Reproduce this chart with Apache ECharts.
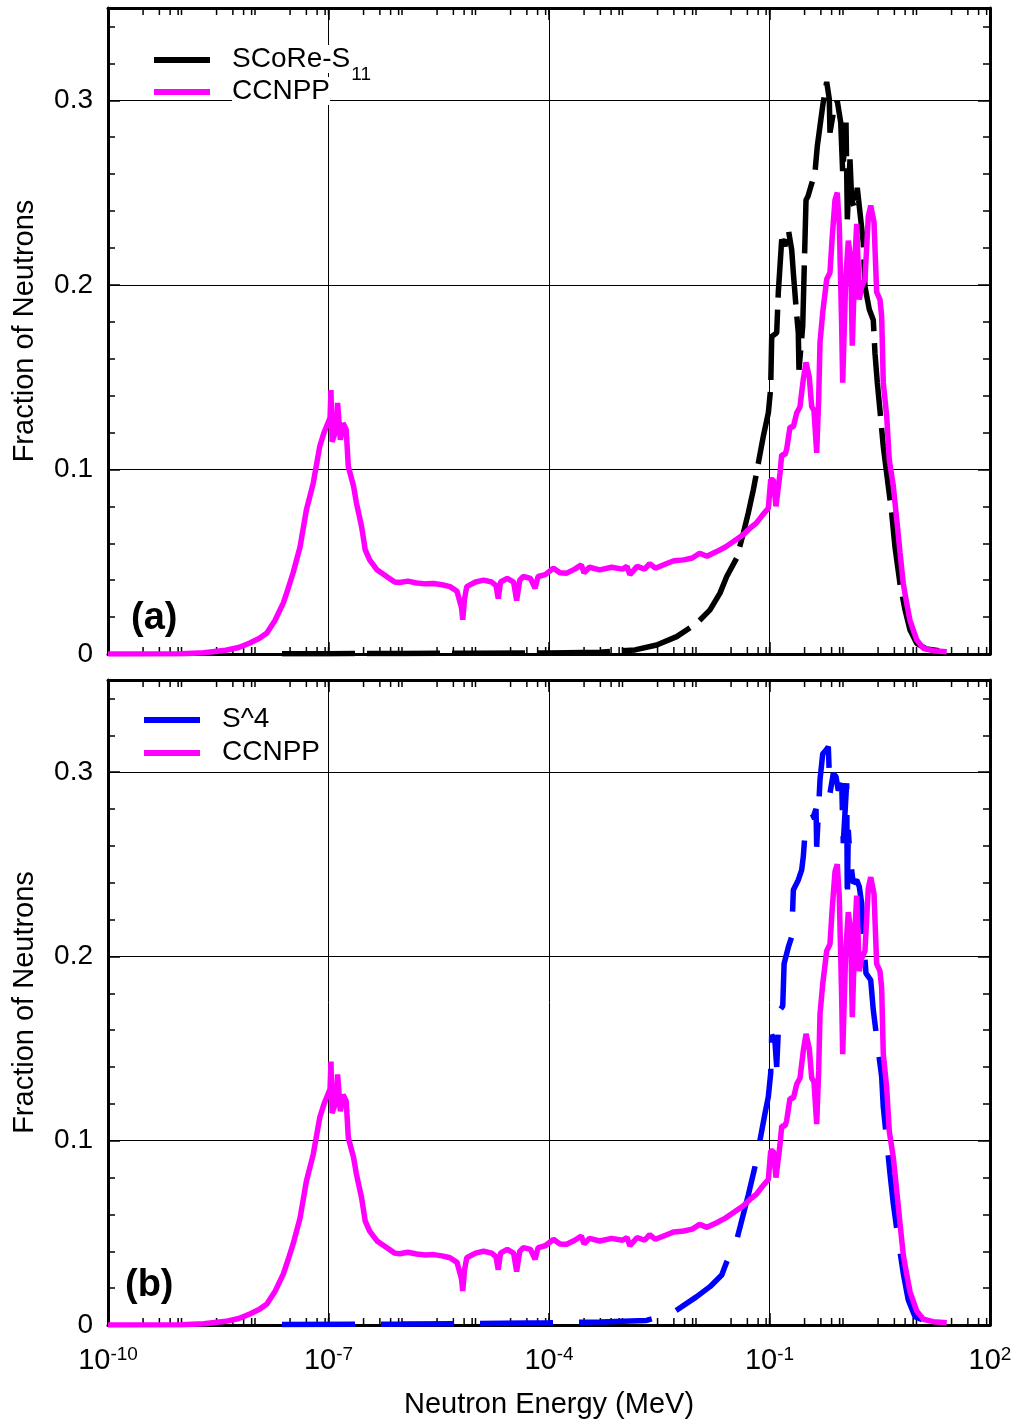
<!DOCTYPE html>
<html>
<head>
<meta charset="utf-8">
<script src="https://cdn.jsdelivr.net/npm/echarts@6/dist/echarts.min.js"></script>
<style>
  html, body { margin: 0; padding: 0; background: #fff; }
  #chart { width: 1018px; height: 1425px; }
</style>
</head>
<body>
<div id="chart"></div>
<script>
// ---------------- data ----------------
// Neutron energy in MeV, fraction of neutrons
const ccnppEnergy = [
  1e-10, 1e-9, 2e-9, 4e-9, 6e-9, 8.5e-9, 1.15e-8, 1.45e-8, 1.86e-8, 2.43e-8,
  2.8e-8, 3.3e-8, 4.1e-8, 5.0e-8, 6.2e-8, 7.6e-8, 8.7e-8, 9.4e-8, 1.05e-7, 1.08e-7,
  1.12e-7, 1.26e-7, 1.33e-7, 1.45e-7, 1.58e-7, 1.74e-7, 1.86e-7, 2.19e-7, 2.4e-7, 2.82e-7,
  3.16e-7, 3.63e-7, 4.57e-7, 6.17e-7, 7.94e-7, 9.3e-7, 1.2e-6, 1.58e-6, 2.1e-6, 2.7e-6,
  3.5e-6, 4.5e-6, 5.6e-6, 6.46e-6, 6.7e-6, 7.1e-6, 7.6e-6, 1.0e-5, 1.29e-5, 1.66e-5,
  1.9e-5, 2.04e-5, 2.19e-5, 2.7e-5, 3.3e-5, 3.63e-5, 4.0e-5, 4.47e-5, 5.6e-5, 6.46e-5,
  7.1e-5, 8.9e-5, 1.15e-4, 1.41e-4, 1.74e-4, 2.24e-4, 2.75e-4, 3.0e-4, 3.55e-4, 4.9e-4,
  7.1e-4, 1.0e-3, 1.15e-3, 1.26e-3, 1.58e-3, 2.0e-3, 2.34e-3, 2.8e-3, 4.0e-3, 5.0e-3,
  6.8e-3, 8.9e-3, 1.12e-2, 1.41e-2, 1.91e-2, 2.51e-2, 3.24e-2, 4.37e-2, 5.37e-2, 6.6e-2,
  7.94e-2,
  0.0964, 0.1038, 0.1127, 0.1225, 0.139, 0.1466, 0.1626, 0.1714, 0.190, 0.211,
  0.2344, 0.260, 0.288, 0.314, 0.3475, 0.375, 0.4027, 0.4385, 0.4667, 0.4864,
  0.5297, 0.5998, 0.665, 0.7145, 0.778, 0.8356, 0.891, 0.959, 0.99, 1.089,
  1.18, 1.273, 1.338, 1.455, 1.535, 1.614, 1.667, 1.795, 1.991, 2.208,
  2.382, 2.642, 2.871, 3.184, 3.357, 3.532, 3.926, 4.266, 4.831, 5.38,
  5.97, 6.61, 7.36, 8.17, 10.07, 12.4, 16.9, 25.8
];
const ccnppFraction = [
  0, 0.0002, 0.0007, 0.002, 0.0035, 0.006, 0.0085, 0.0114, 0.018, 0.0277,
  0.035, 0.044, 0.058, 0.078, 0.0926, 0.1125, 0.120, 0.1233, 0.128, 0.143,
  0.115, 0.121, 0.136, 0.116, 0.125, 0.1215, 0.1016, 0.091, 0.0818, 0.069,
  0.0564, 0.051, 0.0456, 0.042, 0.039, 0.0387, 0.0395, 0.0385, 0.038, 0.0382,
  0.0375, 0.0365, 0.034, 0.025, 0.0185, 0.030, 0.0365, 0.039, 0.040, 0.039,
  0.037, 0.030, 0.039, 0.041, 0.039, 0.029, 0.040, 0.042, 0.041, 0.0356,
  0.042, 0.043, 0.0465, 0.044, 0.0438, 0.046, 0.0483, 0.044, 0.047, 0.0456,
  0.047, 0.046, 0.0475, 0.043, 0.0475, 0.046, 0.049, 0.0465, 0.049, 0.0505,
  0.051, 0.052, 0.0546, 0.053, 0.0555, 0.058, 0.061, 0.0646, 0.068, 0.0709,
  0.075,
  0.079, 0.0944, 0.0944, 0.080, 0.098, 0.108, 0.108, 0.111, 0.123, 0.123,
  0.1306, 0.134, 0.1487, 0.158, 0.150, 0.134, 0.132, 0.109, 0.138, 0.1686,
  0.185, 0.203, 0.2066, 0.2264, 0.246, 0.250, 0.232, 0.178, 0.147, 0.203,
  0.224, 0.214, 0.167, 0.214, 0.233, 0.232, 0.192, 0.199, 0.203, 0.237,
  0.243, 0.234, 0.196, 0.192, 0.183, 0.147, 0.129, 0.105, 0.091, 0.073,
  0.055, 0.038, 0.0275, 0.018, 0.0076, 0.0031, 0.0018, 0.0012
];

const scoreEnergy = [
  2.33e-8, 1e-7, 1e-6, 1e-5, 1e-4, 4.94e-4, 1.48e-3, 2.92e-3, 5.46e-3, 1.023e-2,
  1.55e-2, 2.12e-2, 2.62e-2, 3.58e-2, 4.41e-2, 5.14e-2, 6.03e-2, 7.05e-2, 8.24e-2, 0.0964,
  0.1038, 0.1072, 0.1253, 0.1318, 0.1466, 0.1626, 0.1803, 0.2004, 0.211, 0.2296,
  0.2466, 0.2518, 0.283, 0.314, 0.334, 0.416, 0.4467, 0.4864, 0.5297, 0.5998,
  0.651, 0.665, 0.738, 0.8356, 0.931, 0.99, 1.099, 1.145, 1.245, 1.313,
  1.455, 1.564, 1.703, 1.888, 1.991, 2.28, 2.582, 2.723, 2.931, 3.184,
  3.532, 3.926, 4.6, 5.096, 5.97, 6.98, 8.17, 10.07, 13.77, 25.8
];
const scoreFraction = [
  0.0002, 0.0002, 0.0003, 0.0004, 0.0006, 0.001, 0.0022, 0.0049, 0.0094, 0.0166,
  0.0239, 0.033, 0.042, 0.052, 0.0655, 0.0763, 0.089, 0.1035, 0.118, 0.1306,
  0.144, 0.172, 0.174, 0.196, 0.2246, 0.221, 0.230, 0.219, 0.2066, 0.188,
  0.174, 0.154, 0.1776, 0.246, 0.248, 0.261, 0.275, 0.286, 0.297, 0.310,
  0.3006, 0.2825, 0.293, 0.2997, 0.288, 0.261, 0.288, 0.2355, 0.268, 0.246,
  0.241, 0.2526, 0.239, 0.223, 0.199, 0.1866, 0.181, 0.163, 0.147, 0.132,
  0.1125, 0.098, 0.0763, 0.058, 0.038, 0.0239, 0.013, 0.0058, 0.0027, 0.0012
];

const s4Energy = [
  2.33e-8, 1e-6, 1e-5, 1e-4, 4.94e-4, 2.13e-3, 4.67e-3, 1.023e-2, 1.55e-2, 2.24e-2,
  2.62e-2, 3.58e-2, 5.14e-2, 6.35e-2, 7.43e-2, 8.69e-2, 0.0964, 0.1038, 0.1072, 0.118,
  0.1253, 0.1318, 0.139, 0.1514, 0.158, 0.1803, 0.2004, 0.211, 0.2466, 0.274,
  0.288, 0.314, 0.3945, 0.4296, 0.4385, 0.4864, 0.5297, 0.5875, 0.631, 0.665,
  0.738, 0.803, 0.863, 0.959, 1.009, 1.122, 1.145, 1.18, 1.245, 1.38,
  1.535, 1.667, 1.795, 1.888, 2.056, 2.382, 2.582, 2.723, 3.02, 3.357,
  3.532, 3.926, 4.357, 4.831, 5.65, 6.61, 7.73, 9.55, 13.77, 25.8
];
const s4Fraction = [
  0.0003, 0.0005, 0.0008, 0.0012, 0.0016, 0.0025, 0.0063, 0.0154, 0.0208, 0.0271,
  0.0343, 0.0461, 0.0705, 0.0859, 0.1004, 0.1149, 0.1239, 0.1366, 0.1573, 0.155,
  0.140, 0.160, 0.171, 0.173, 0.196, 0.205, 0.2107, 0.236, 0.2415, 0.247,
  0.254, 0.274, 0.2758, 0.280, 0.2595, 0.2957, 0.310, 0.312, 0.3138, 0.2885,
  0.2993, 0.2975, 0.290, 0.294, 0.2614, 0.294, 0.2297, 0.2686, 0.254, 0.2397,
  0.2414, 0.2378, 0.2288, 0.2107, 0.1908, 0.1872, 0.171, 0.171, 0.149, 0.1347,
  0.1184, 0.1004, 0.0823, 0.066, 0.0461, 0.028, 0.0136, 0.0045, 0.0018, 0.0012
];

// axis tick specification
const decadeExponents = [-10, -9, -8, -7, -6, -5, -4, -3, -2, -1, 0, 1];
const minorMultipliers = [1, 3, 5, 7, 9];
const seriesNames = ['SCoRe-S11', 'CCNPP', 'S^4'];

// ---------------- chart ----------------
const FONT = '"Liberation Sans", Arial, Helvetica, sans-serif';
const pairs = (xs, ys) => xs.map((x, i) => [x, ys[i]]);
const tickValues = [];
decadeExponents.forEach(e => minorMultipliers.forEach(m => tickValues.push([m * Math.pow(10, e), 0])));

function xAxisDef(grid, position, labelled) {
  const bottom = position === 'bottom';
  return {
    gridIndex: grid, type: 'log', logBase: 10, min: 1e-10, max: 100, interval: 3,
    position: position,
    axisLine: { show: true, onZero: false, lineStyle: { color: '#000', width: 3 } },
    axisTick: { show: true, inside: true, length: 12, lineStyle: { color: '#000', width: 1.5 } },
    minorTick: { show: false },
    splitLine: { show: bottom, lineStyle: { color: '#000', width: 1 } },
    axisLabel: {
      show: labelled, margin: 20, color: '#000', fontFamily: FONT,
      formatter: v => '{b|10}{e|' + Math.round(Math.log10(v)) + '}',
      rich: {
        b: { fontSize: 29, lineHeight: 30, fontFamily: FONT, color: '#000', verticalAlign: 'bottom', padding: [11, 0, 0, 0] },
        e: { fontSize: 19, lineHeight: 19, fontFamily: FONT, color: '#000', verticalAlign: 'top' }
      }
    },
    name: labelled ? 'Neutron Energy (MeV)' : '',
    nameLocation: 'middle', nameGap: 65,
    nameTextStyle: { fontSize: 29, fontFamily: FONT, color: '#000' }
  };
}
function yAxisDef(grid, position) {
  const left = position === 'left';
  return {
    gridIndex: grid, type: 'value', min: 0, max: 0.35, interval: 0.1, position: position,
    axisLine: { show: true, onZero: false, lineStyle: { color: '#000', width: 3 } },
    axisTick: { show: true, inside: true, length: 12, lineStyle: { color: '#000', width: 1.5 } },
    minorTick: { show: true, splitNumber: 5, length: 7, lineStyle: { color: '#000', width: 1.5 } },
    splitLine: { show: left, lineStyle: { color: '#000', width: 1 } },
    axisLabel: {
      show: left, margin: 15, fontSize: 28, color: '#000', fontFamily: FONT, showMaxLabel: false,
      formatter: v => (Math.abs(v * 10 - Math.round(v * 10)) < 1e-6 ? (v === 0 ? '0' : v.toFixed(1)) : '')
    },
    name: left ? 'Fraction of Neutrons' : '',
    nameLocation: 'middle', nameGap: 69,
    nameTextStyle: { fontSize: 29, fontFamily: FONT, color: '#000' }
  };
}
function lineSeries(name, xi, yi, xs, ys, color, dash, z) {
  return {
    name: name, type: 'line', xAxisIndex: xi, yAxisIndex: yi,
    data: pairs(xs, ys), showSymbol: false, symbol: 'none', z: z,
    itemStyle: { color: color },
    lineStyle: { color: color, width: 5.5, type: dash, cap: 'butt', join: 'bevel' },
    animation: false
  };
}
function tickSeries(xi, yi) {
  return {
    type: 'custom', xAxisIndex: xi, yAxisIndex: yi, silent: true, clip: false, z: 1,
    data: tickValues, encode: { x: 0, y: 1 },
    renderItem: function (params, api) {
      const v = api.value(0);
      const b = api.coord([v, 0]);
      const t = api.coord([v, 0.35]);
      const st = { stroke: '#000', lineWidth: 1.5 };
      return { type: 'group', children: [
        { type: 'line', shape: { x1: b[0], y1: b[1], x2: b[0], y2: b[1] - 7 }, style: st },
        { type: 'line', shape: { x1: t[0], y1: t[1], x2: t[0], y2: t[1] + 7 }, style: st }
      ] };
    }
  };
}
function legendText(bg) {
  return {
    fontSize: 28, lineHeight: 30, fontFamily: FONT, color: '#000', padding: [0, 0, 0, 17],
    rich: {
      a: { fontSize: 28, lineHeight: 30, fontFamily: FONT, color: '#000', verticalAlign: 'top', backgroundColor: bg },
      s: { fontSize: 19, lineHeight: 19, fontFamily: FONT, color: '#000', verticalAlign: 'top', padding: [20, 0, 0, 1] }
    }
  };
}
const legendFormatter = name => name === 'SCoRe-S11' ? '{a|SCoRe-S}{s|11}' : '{a|' + name + '}';

const option = {
  animation: false,
  backgroundColor: '#fff',
  grid: [
    { left: 108, top: 8, width: 882, height: 646 },
    { left: 108, top: 680, width: 882, height: 645 }
  ],
  xAxis: [
    xAxisDef(0, 'bottom', false), xAxisDef(0, 'top', false),
    xAxisDef(1, 'bottom', true), xAxisDef(1, 'top', false)
  ],
  yAxis: [
    yAxisDef(0, 'left'), yAxisDef(0, 'right'),
    yAxisDef(1, 'left'), yAxisDef(1, 'right')
  ],
  legend: [
    { data: [seriesNames[0], seriesNames[1]], orient: 'vertical', left: 154, top: 45, padding: 0,
      icon: 'rect', itemWidth: 56, itemHeight: 6, itemGap: -7, selectedMode: false,
      itemStyle: { borderWidth: 0 }, textStyle: legendText('#fff'), formatter: legendFormatter },
    { data: [seriesNames[2], seriesNames[1]], orient: 'vertical', left: 144, top: 705, padding: 0,
      icon: 'rect', itemWidth: 56, itemHeight: 6, itemGap: 3, selectedMode: false,
      itemStyle: { borderWidth: 0 }, textStyle: legendText('transparent'), formatter: legendFormatter }
  ],
  title: [
    { text: '(a)', left: 131, top: 600, padding: 0,
      textStyle: { fontSize: 38, fontWeight: 'bold', color: '#000', fontFamily: FONT } },
    { text: '(b)', left: 125, top: 1267, padding: 0,
      textStyle: { fontSize: 38, fontWeight: 'bold', color: '#000', fontFamily: FONT } }
  ],
  series: [
    lineSeries(seriesNames[0], 0, 0, scoreEnergy, scoreFraction, '#000000', [73, 12], 3),
    lineSeries(seriesNames[1], 0, 0, ccnppEnergy, ccnppFraction, '#ff00ff', 'solid', 4),
    tickSeries(0, 0),
    lineSeries(seriesNames[2], 2, 2, s4Energy, s4Fraction, '#0000ff', [73, 26], 3),
    lineSeries(seriesNames[1], 2, 2, ccnppEnergy, ccnppFraction, '#ff00ff', 'solid', 4),
    tickSeries(2, 2)
  ]
};
const chart = echarts.init(document.getElementById('chart'), null, { renderer: 'canvas' });
chart.setOption(option);
</script>
</body>
</html>
